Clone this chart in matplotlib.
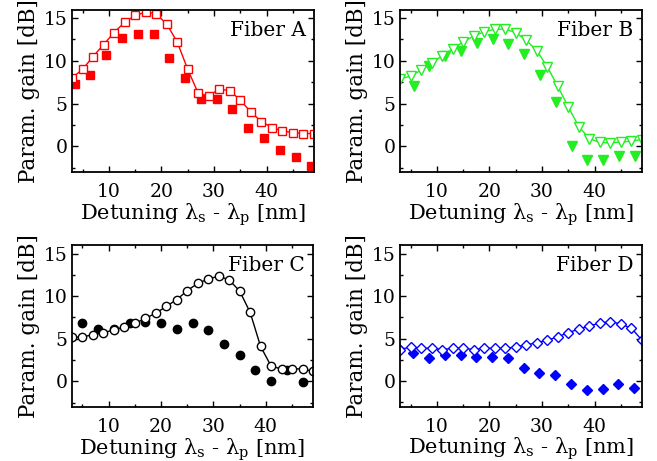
import matplotlib
matplotlib.use("Agg")
import matplotlib.pyplot as plt
from matplotlib.ticker import MultipleLocator

plt.rcParams['font.family'] = ['DejaVu Serif']
plt.rcParams['mathtext.default'] = 'regular'

# simulated gain (open markers + line), 2 nm grid
x_sim = [3, 5, 7, 9, 11, 13, 15, 17, 19, 21, 23, 25, 27, 29, 31, 33, 35, 37, 39, 41, 43, 45, 47, 49]
simA = [8.0, 9.0, 10.5, 11.9, 13.3, 14.5, 15.3, 15.7, 15.5, 14.3, 12.2, 9.0, 6.2, 5.9, 6.7, 6.5, 5.4, 4.0, 2.9, 2.2, 1.8, 1.6, 1.5, 1.5]
simB = [7.9, 8.2, 8.9, 9.7, 10.6, 11.4, 12.2, 12.9, 13.4, 13.7, 13.7, 13.3, 12.4, 11.2, 9.3, 7.0, 4.6, 2.3, 0.9, 0.45, 0.4, 0.5, 0.6, 0.8]
simC = [5.2, 5.2, 5.5, 5.7, 6.05, 6.4, 6.8, 7.4, 8.0, 8.8, 9.6, 10.65, 11.5, 12.0, 12.35, 11.9, 10.6, 8.1, 4.1, 1.8, 1.45, 1.5, 1.45, 1.2]
simD = [3.7, 4.0, 3.85, 3.85, 3.7, 3.85, 3.85, 3.7, 3.85, 3.85, 3.85, 4.0, 4.25, 4.5, 4.8, 5.2, 5.7, 6.1, 6.5, 6.8, 7.0, 6.7, 6.2, 4.8]

# measured gain (filled markers)
xA = [3.5, 6.5, 9.5, 12.5, 15.5, 18.5, 21.5, 24.5, 27.5, 30.5, 33.5, 36.5, 39.5, 42.5, 45.5, 48.5]
measA = [7.3, 8.3, 10.7, 12.7, 13.1, 13.1, 10.3, 8.0, 5.5, 5.5, 4.4, 2.1, 1.0, -0.4, -1.2, -2.3]
xB = [5.6, 8.6, 11.6, 14.6, 17.6, 20.6, 23.6, 26.6, 29.6, 32.6, 35.6, 38.6, 41.6, 44.6, 47.6]
measB = [7.0, 9.4, 10.6, 11.2, 12.1, 12.5, 12.0, 10.8, 8.3, 5.2, 0.0, -1.6, -1.6, -1.1, -1.1]
xC = [5, 8, 11, 14, 17, 20, 23, 26, 29, 32, 35, 38, 41, 44, 47]
measC = [6.8, 6.1, 6.1, 6.8, 7.0, 6.9, 6.2, 6.85, 6.0, 4.4, 3.05, 1.35, 0.05, 1.35, -0.1]
xD = [2.6, 5.5, 8.5, 11.5, 14.5, 17.5, 20.5, 23.5, 26.5, 29.5, 32.5, 35.5, 38.5, 41.5, 44.5, 47.5]
measD = [3.9, 3.25, 2.75, 3.1, 3.05, 2.8, 2.8, 2.65, 1.55, 1.0, 0.65, -0.35, -1.0, -0.95, -0.35, -0.85]

names = ['Fiber A', 'Fiber B', 'Fiber C', 'Fiber D']
colors = ['#ff0000', '#22ee22', '#000000', '#0000ff']
markers = [('s', 5.5), ('v', 7.5), ('o', 6), ('D', 5.2)]
sims = [simA, simB, simC, simD]
meas_x = [xA, xB, xC, xD]
meas = [measA, measB, measC, measD]

W, H = 657, 461
boxes = [(72, 9.5, 314, 172), (400, 9.5, 642, 172),
         (72, 245, 313, 407), (400, 245, 642, 406.5)]

fig = plt.figure(figsize=(W / 100, H / 100), dpi=100)

for i in range(4):
    l, t, r, b = boxes[i]
    ax = fig.add_axes([l / W, 1 - b / H, (r - l) / W, (b - t) / H])
    c = colors[i]
    m, ms = markers[i]
    ax.plot(meas_x[i], meas[i], m, color=c, ms=ms, mec=c, mew=1)
    ax.plot(x_sim, sims[i], '-', color=c, lw=1, marker=m, ms=ms, mfc='white', mec=c, mew=1)
    ax.set_xlim(3, 49)
    ax.set_ylim(-3, 16)
    ax.xaxis.set_major_locator(MultipleLocator(10))
    ax.xaxis.set_minor_locator(MultipleLocator(5))
    ax.yaxis.set_major_locator(MultipleLocator(5))
    ax.yaxis.set_minor_locator(MultipleLocator(2.5))
    ax.tick_params(which='both', direction='in', top=True, right=True, labelsize=13.5, width=1)
    ax.tick_params(which='major', length=4)
    ax.tick_params(which='minor', length=2)
    ax.tick_params(axis='x', pad=8)
    ax.tick_params(axis='y', pad=3)
    for s in ax.spines.values():
        s.set_linewidth(1.3)
    ax.set_xlabel('Detuning λ$_\\mathregular{s}$ - λ$_\\mathregular{p}$ [nm]', fontsize=15, labelpad=0)
    ax.set_ylabel('Param. gain [dB]', fontsize=15.5, labelpad=3)
    ax.text(0.965, 0.93, names[i], transform=ax.transAxes, ha='right', va='top', fontsize=14.5)

fig.savefig('out.png', dpi=100)
